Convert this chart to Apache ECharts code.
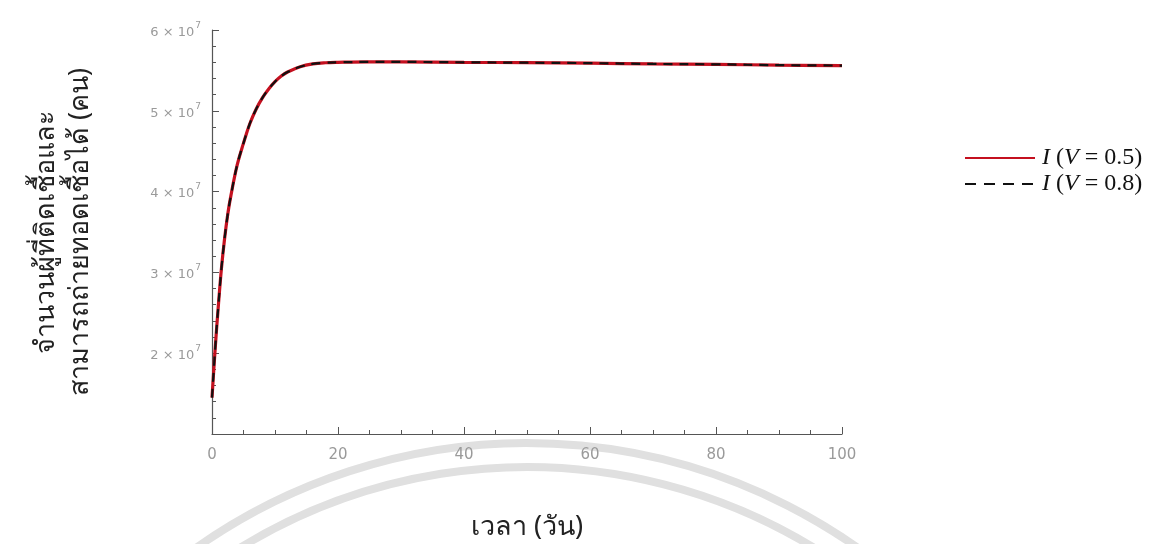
<!DOCTYPE html>
<html>
<head>
<meta charset="utf-8">
<script src="https://cdn.jsdelivr.net/npm/echarts@6/dist/echarts.min.js"></script>
<style>
  html, body { margin: 0; padding: 0; background: #fff; }
  #chart { width: 1155px; height: 544px; }
</style>
</head>
<body>
<div id="chart"></div>
<script>
// เวลา (วัน)
var tDays = [0, 0.5, 1, 1.5, 2, 2.5, 3, 4, 5, 6, 7, 8, 9, 10, 11, 12, 14, 16, 18, 20, 25, 30, 40, 50, 60, 70, 80, 90, 100];
// I(V = 0.5)
var infectedV05 = [1.45e7, 2.05e7, 2.58e7, 3.05e7, 3.42e7, 3.72e7, 3.95e7, 4.33e7, 4.6e7, 4.84e7, 5.02e7, 5.16e7, 5.27e7, 5.36e7, 5.43e7, 5.48e7, 5.545e7, 5.58e7, 5.595e7, 5.6e7, 5.605e7, 5.605e7, 5.6e7, 5.595e7, 5.59e7, 5.58e7, 5.575e7, 5.565e7, 5.56e7];
// I(V = 0.8)
var infectedV08 = [1.45e7, 2.05e7, 2.58e7, 3.05e7, 3.42e7, 3.72e7, 3.95e7, 4.33e7, 4.6e7, 4.84e7, 5.02e7, 5.16e7, 5.27e7, 5.36e7, 5.43e7, 5.48e7, 5.545e7, 5.58e7, 5.595e7, 5.6e7, 5.605e7, 5.605e7, 5.6e7, 5.595e7, 5.59e7, 5.58e7, 5.575e7, 5.565e7, 5.56e7];
var xTicks = [0, 20, 40, 60, 80, 100];
var yTicks = [1e7, 2e7, 3e7, 4e7, 5e7, 6e7];
var seriesNames = ['I(V = 0.5)', 'I(V = 0.8)'];

function pairs(xs, ys) {
  var out = [];
  for (var i = 0; i < xs.length; i++) {
    out.push([xs[i], ys[i]]);
  }
  return out;
}

var chart = echarts.init(document.getElementById('chart'), null, { renderer: 'canvas' });

var axisGray = '#555';
var labelGray = '#9a9a9a';

var option = {
  backgroundColor: '#fff',
  animation: false,
  grid: {
    left: 212,
    right: 313,
    top: 30,
    bottom: 110,
    outerBoundsMode: 'none'
  },
  // จาง ๆ แบบลายน้ำของต้นฉบับ
  graphic: [{
    type: 'arc',
    silent: true,
    z: -10,
    shape: { cx: 527, cy: 1017, r: 574, startAngle: Math.PI * 1.15, endAngle: Math.PI * 1.85 },
    style: { stroke: '#e0e0e0', lineWidth: 8, fill: null }
  }, {
    type: 'arc',
    silent: true,
    z: -10,
    shape: { cx: 527, cy: 1017, r: 550, startAngle: Math.PI * 1.2, endAngle: Math.PI * 1.8 },
    style: { stroke: '#e0e0e0', lineWidth: 8, fill: null }
  }],
  legend: {
    orient: 'vertical',
    left: 959,
    top: 141,
    itemWidth: 70,
    itemHeight: 14,
    itemGap: 2,
    data: [{
      name: seriesNames[0]
    }, {
      name: seriesNames[1],
      lineStyle: { type: [11, 8] }
    }],
    itemStyle: { opacity: 0 },
    formatter: function(name) {
      var v = name.indexOf('0.5') >= 0 ? '0.5' : '0.8';
      return '{it|I}{up| (}{it|V}{up| = ' + v + ')}';
    },
    textStyle: {
      padding: [0, 0, 0, 2],
      rich: {
        it: { fontFamily: 'Liberation Serif', fontStyle: 'italic', fontSize: 24, color: '#111' },
        up: { fontFamily: 'Liberation Serif', fontSize: 24, color: '#111' }
      }
    }
  },
  xAxis: {
    type: 'value',
    min: 0,
    max: 100,
    interval: 20,
    name: 'เวลา (วัน)',
    nameLocation: 'middle',
    nameGap: 80,
    nameTextStyle: { fontSize: 27, color: '#222', fontFamily: 'Noto Sans, sans-serif' },
    splitLine: { show: false },
    axisLine: { lineStyle: { color: axisGray, width: 1.2 } },
    axisTick: { inside: true, length: 7, lineStyle: { color: axisGray } },
    minorTick: { show: true, splitNumber: 4, length: 4, lineStyle: { color: axisGray } },
    axisLabel: {
      margin: 14,
      fontSize: 15,
      color: labelGray,
      fontFamily: 'DejaVu Sans',
      formatter: function(v) {
        return xTicks.indexOf(v) >= 0 ? String(v) : '';
      }
    }
  },
  yAxis: {
    type: 'value',
    min: 1e7,
    max: 6e7,
    interval: 1e7,
    name: 'จำนวนผู้ที่ติดเชื้อและ\nสามารถถ่ายทอดเชื้อได้ (คน)',
    nameLocation: 'middle',
    nameGap: 115,
    nameRotate: 90,
    nameTextStyle: { fontSize: 27, lineHeight: 34, color: '#222', fontFamily: 'Noto Sans, sans-serif' },
    splitLine: { show: false },
    axisLine: { lineStyle: { color: axisGray, width: 1.2 } },
    axisTick: { inside: true, length: 7, lineStyle: { color: axisGray } },
    minorTick: { show: true, splitNumber: 5, length: 4, lineStyle: { color: axisGray } },
    axisLabel: {
      margin: 11,
      color: labelGray,
      formatter: function(v) {
        if (v === yTicks[0]) {
          return '';
        }
        return '{b|' + Math.round(v / 1e7) + ' × 10}{s|7}';
      },
      rich: {
        b: { fontSize: 13, color: labelGray, fontFamily: 'DejaVu Sans', verticalAlign: 'bottom' },
        s: { fontSize: 9, color: labelGray, fontFamily: 'DejaVu Sans', verticalAlign: 'top', padding: [0, 0, 9, 1] }
      }
    }
  },
  series: [{
    name: seriesNames[0],
    type: 'line',
    smooth: 0.4,
    showSymbol: false,
    symbol: 'none',
    data: pairs(tDays, infectedV05),
    itemStyle: { color: '#c4101f' },
    lineStyle: { color: '#c4101f', width: 3.2 },
    z: 2
  }, {
    name: seriesNames[1],
    type: 'line',
    smooth: 0.4,
    showSymbol: false,
    symbol: 'none',
    data: pairs(tDays, infectedV08),
    itemStyle: { color: '#111' },
    lineStyle: { color: '#111', width: 2.2, type: [9, 7] },
    z: 3
  }]
};

chart.setOption(option);
</script>
</body>
</html>
